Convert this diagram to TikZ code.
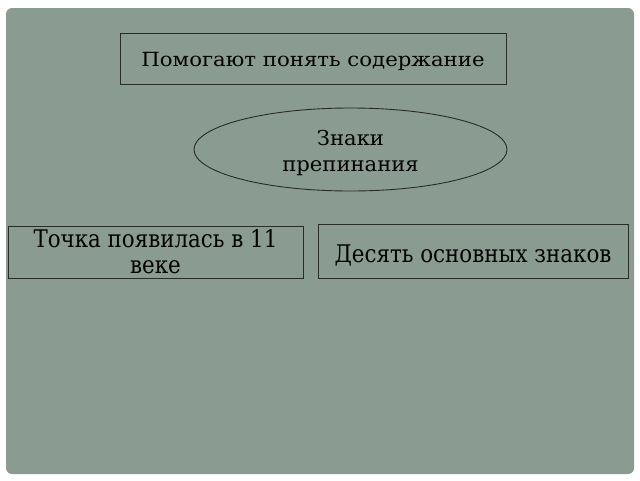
\documentclass[tikz,border=0pt]{standalone}
\usepackage{fontspec}
\setmainfont{DejaVu Serif}
\newfontfamily\widefont[FakeStretch=1.09]{DejaVu Serif}
\newfontfamily\ovalfont[FakeStretch=1.03]{DejaVu Serif}
\newfontfamily\narrowfont[FakeStretch=0.88]{DejaVu Serif}
\usepackage{tikz}
\usetikzlibrary{shapes.geometric}

\definecolor{slidegreen}{RGB}{138,155,146}
\definecolor{boxline}{RGB}{40,44,42}

\begin{document}
\begin{tikzpicture}[x=1pt, y=-1pt,
  plainbox/.style={draw=boxline, line width=0.9pt, fill=slidegreen, inner sep=0pt, align=center},
  ovalbox/.style={ellipse, draw=boxline, line width=0.9pt, fill=slidegreen, inner sep=0pt, align=center}]
\useasboundingbox (0, 0) rectangle (640, 480);
%draw background
\fill [slidegreen, rounded corners=6pt] (6, 8) rectangle (634, 474);

%top box
\node[plainbox, minimum width=386pt, minimum height=51pt, font=\widefont\fontsize{19.5}{22}\selectfont] (help) at (313, 58.5) {\raisebox{-3pt}[\height][\depth]{Помогают понять содержание}};

%oval
\node[ovalbox, minimum width=313pt, minimum height=83pt, font=\ovalfont\fontsize{20.5}{26}\selectfont] (signs) at (350.5, 149.5) {\raisebox{-4pt}[\height][\depth]{\begin{tabular}{@{}c@{}}Знаки\\препинания\end{tabular}}};

%bottom boxes
\node[plainbox, minimum width=295pt, minimum height=52pt, font=\narrowfont\fontsize{24.3}{26}\selectfont] (dot) at (155.5, 252) {\raisebox{-3pt}[\height][\depth]{\begin{tabular}{@{}c@{}}Точка появилась в 11\\веке\end{tabular}}};
\node[plainbox, minimum width=310pt, minimum height=54pt, font=\narrowfont\fontsize{24.3}{26}\selectfont] (ten) at (473, 251) {\raisebox{-5pt}[\height][\depth]{Десять основных знаков}};

\end{tikzpicture}
\end{document}
